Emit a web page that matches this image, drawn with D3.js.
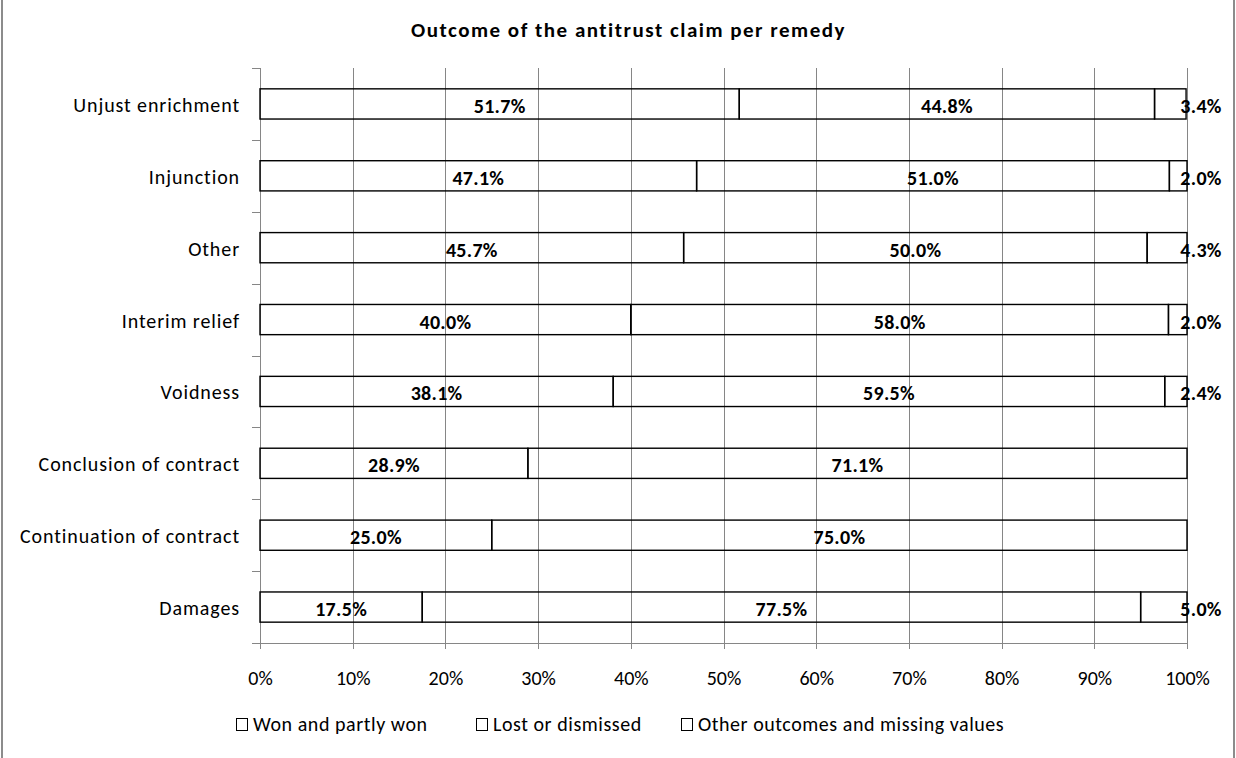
<!DOCTYPE html>
<html>
<head>
<meta charset="utf-8">
<script src="https://cdn.jsdelivr.net/npm/d3@7"></script>
<style>
  html, body { margin: 0; padding: 0; background: #fff; }
  svg { display: block; font-family: Carlito, Lato, "Open Sans", sans-serif; }
</style>
</head>
<body>
<svg id="chart" width="1236" height="758"></svg>
<script>
const categories = ["Unjust enrichment", "Injunction", "Other", "Interim relief", "Voidness",
  "Conclusion of contract", "Continuation of contract", "Damages"];
const seriesNames = ["Won and partly won", "Lost or dismissed", "Other outcomes and missing values"];
const won   = [51.7, 47.1, 45.7, 40.0, 38.1, 28.9, 25.0, 17.5];
const lost  = [44.8, 51.0, 50.0, 58.0, 59.5, 71.1, 75.0, 77.5];
const other = [3.4, 2.0, 4.3, 2.0, 2.4, 0, 0, 5.0];
const xTicks = [0, 10, 20, 30, 40, 50, 60, 70, 80, 90, 100];
const title = "Outcome of the antitrust claim per remedy";

(function () {
const W = 1236, H = 758;
const svg = d3.select("#chart");
const pL = 260, pR = 1187, pT = 68, pB = 643;
const grid = "#868686";
const FONT = "Carlito, Lato, sans-serif";

// outer border
svg.append("rect").attr("x", 2).attr("y", -5).attr("width", 1232).attr("height", H + 10)
  .attr("fill", "none").attr("stroke", "#8c8c8c").attr("stroke-width", 2);

svg.append("text").attr("x", 628.5).attr("y", 37).attr("text-anchor", "middle")
  .attr("font-size", 21).attr("font-weight", "bold").attr("letter-spacing", 1.5)
  .attr("fill", "#000").text(title);

const x = d3.scaleLinear().domain([0, 100]).range([pL, pR]);
const y = d3.scaleBand().domain(categories).range([pT, pB]).paddingInner(0.58).paddingOuter(0.29);

// gridlines
svg.append("g").selectAll("line").data(xTicks).join("line")
  .attr("x1", d => Math.round(x(d)) + 0.5).attr("x2", d => Math.round(x(d)) + 0.5)
  .attr("y1", pT).attr("y2", pB + 6)
  .attr("stroke", grid).attr("stroke-width", 1);

// y axis line and ticks at band boundaries
svg.append("line").attr("x1", pL + 0.5).attr("x2", pL + 0.5).attr("y1", pT).attr("y2", pB)
  .attr("stroke", grid);
const step = (pB - pT) / categories.length;
const bounds = d3.range(categories.length + 1).map(i => pT + i * step);
svg.append("g").selectAll("line").data(bounds).join("line")
  .attr("x1", pL - 8).attr("x2", pL)
  .attr("y1", d => Math.round(d) + 0.5).attr("y2", d => Math.round(d) + 0.5)
  .attr("stroke", grid);
// x axis line
svg.append("line").attr("x1", pL - 8).attr("x2", pR).attr("y1", pB + 0.5).attr("y2", pB + 0.5)
  .attr("stroke", grid);

// x tick labels
const xAxis = d3.axisBottom(x).tickValues(xTicks).tickFormat(d => d + "%").tickSize(0).tickPadding(0);
const xg = svg.append("g").attr("transform", `translate(0,${pB})`).call(xAxis);
xg.select(".domain").remove();
xg.selectAll("text").attr("dy", null).attr("y", 42).attr("font-size", 20).attr("fill", "#000").attr("font-family", FONT);

// y labels
const yAxis = d3.axisLeft(y).tickSize(0).tickPadding(0);
const yg = svg.append("g").attr("transform", `translate(${pL - 20},0)`).call(yAxis);
yg.select(".domain").remove();
yg.selectAll("text").attr("dy", null).attr("y", 8).attr("font-size", 20).attr("letter-spacing", 0.9)
  .attr("fill", "#000").attr("font-family", FONT);

// stacked bars
const rows = categories.map((c, i) => ({ cat: c, won: won[i], lost: lost[i], other: other[i] }));
const keys = ["won", "lost", "other"];
const stack = d3.stack().keys(keys)(rows);
const gBars = svg.append("g");
stack.forEach(layer => {
  layer.forEach(seg => {
    const v = seg[1] - seg[0];
    if (v <= 0) return;
    const cat = seg.data.cat;
    const x0 = x(seg[0]), x1 = x(Math.min(seg[1], 100));
    gBars.append("rect")
      .attr("x", x0).attr("y", y(cat)).attr("width", Math.max(0, x1 - x0)).attr("height", y.bandwidth())
      .attr("fill", "none").attr("stroke", "#000").attr("stroke-width", 1.4);
  });
});
// labels
const gLab = svg.append("g");
stack.forEach(layer => {
  layer.forEach(seg => {
    const v = seg.data[layer.key];
    if (v <= 0) return;
    const cat = seg.data.cat;
    let cx = (x(seg[0]) + x(Math.min(seg[1], 100))) / 2;
    if (v < 10) cx = x(100) + 14;
    gLab.append("text").attr("x", cx).attr("y", y(cat) + y.bandwidth() / 2 + 9)
      .attr("text-anchor", "middle").attr("font-size", 20).attr("font-weight", "bold")
      .attr("letter-spacing", 0.3).attr("fill", "#000").text(v.toFixed(1) + "%");
  });
});

// legend
const legX = [236, 476, 681];
const leg = svg.append("g");
seriesNames.forEach((n, i) => {
  leg.append("rect").attr("x", legX[i] + 0.5).attr("y", 718.5).attr("width", 11).attr("height", 12)
    .attr("fill", "none").attr("stroke", "#000").attr("stroke-width", 1);
  leg.append("text").attr("x", legX[i] + 17).attr("y", 731).attr("font-size", 20)
    .attr("letter-spacing", 0.55).attr("fill", "#000").text(n);
});
})();
</script>
</body>
</html>
